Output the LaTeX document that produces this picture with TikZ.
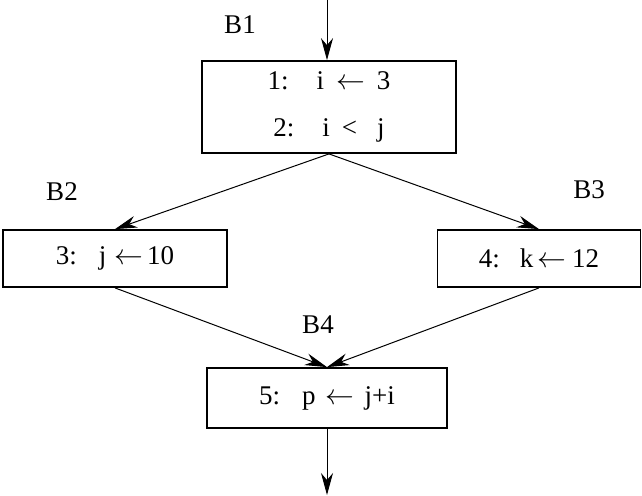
\documentclass[tikz,border=0pt]{standalone}
\usepackage{fontspec}
\setmainfont{Liberation Serif}
\usetikzlibrary{arrows.meta}

\tikzstyle{block} = [draw, line width=0.9pt, inner sep=0pt, font=\fontsize{13.5}{16}\selectfont]
\tikzstyle{tag} = [font=\fontsize{13.5}{16}\selectfont]
\tikzstyle{flow} = [-{Stealth[length=11pt,width=6pt,inset=3.5pt]}, line width=0.5pt]
\newcommand{\getsto}{$\leftarrow$}

\begin{document}
\begin{tikzpicture}[x=0.5pt, y=-0.5pt]
\useasboundingbox (0,0) rectangle (642,495);
% basic blocks
\node[block, minimum width=127pt, minimum height=46pt, align=center] (b1) at (329,107)
    {1:\hspace{14pt}i\hspace{6pt}\getsto\hspace{6pt}3\\[7.5pt]2:\hspace{14pt}i\hspace{6pt}<\hspace{10pt}j};
\node[block, minimum width=112pt, minimum height=28.5pt] (b2) at (115,258.5)
    {3:\hspace{11pt}j\hspace{4pt}\getsto\hspace{2pt}10};
\node[block, minimum width=101.5pt, minimum height=28.5pt] (b3) at (539,258.5)
    {4:\hspace{10pt}k\hspace{2pt}\getsto\hspace{3pt}12};
\node[block, minimum width=120pt, minimum height=30pt] (b4) at (327,398)
    {5:\hspace{11pt}p\hspace{5pt}\getsto\hspace{5pt}j+i};
% block names
\node[tag] (t1) at (240,25) {B1};
\node[tag] (t2) at (62,192) {B2};
\node[tag] (t3) at (589,190) {B3};
\node[tag] (t4) at (318,325) {B4};
% entry and exit
\coordinate (in) at (327,0);
\coordinate (out) at (327,495);
\draw[flow] (in) -- (in |- b1.north);
\draw[flow] (b1.south) -- (b2.north);
\draw[flow] (b1.south) -- (b3.north);
\draw[flow] (b2.south) -- (b4.north);
\draw[flow] (b3.south) -- (b4.north);
\draw[flow] (b4.south) -- (out);
\end{tikzpicture}
\end{document}
